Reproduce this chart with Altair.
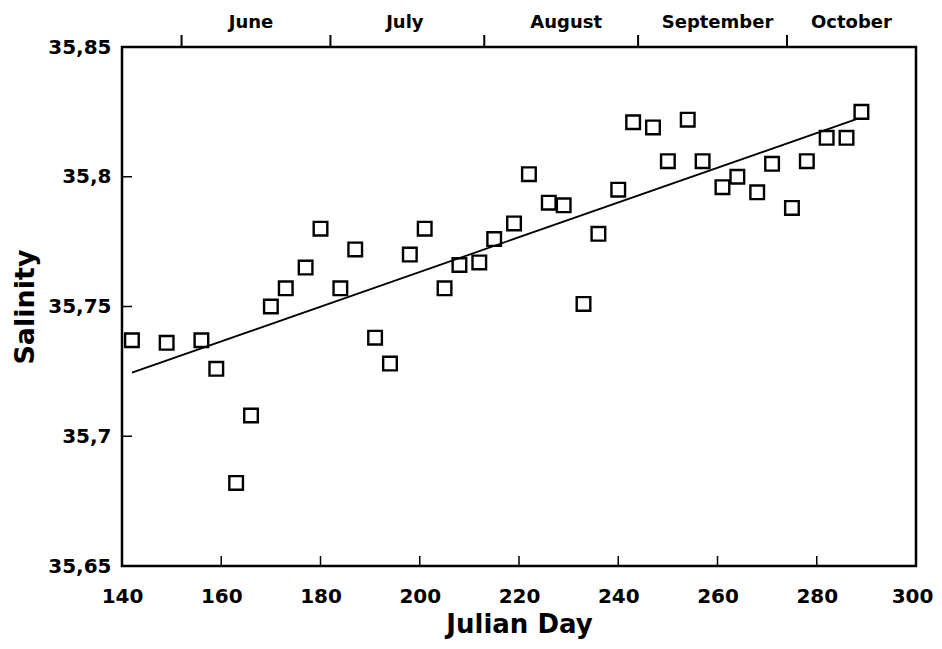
import altair as alt
import pandas as pd

# Observations: Julian day and salinity
days = [142, 149, 156, 159, 163, 166, 170, 173, 177, 180, 184, 187, 191, 194,
        198, 201, 205, 208, 212, 215, 219, 222, 226, 229, 233, 236, 240, 243,
        247, 250, 254, 257, 261, 264, 268, 271, 275, 278, 282, 286, 289]
salinity = [35.737, 35.736, 35.737, 35.726, 35.682, 35.708, 35.750, 35.757,
            35.765, 35.780, 35.757, 35.772, 35.738, 35.728, 35.770, 35.780,
            35.757, 35.766, 35.767, 35.776, 35.782, 35.801, 35.790, 35.789,
            35.751, 35.778, 35.795, 35.821, 35.819, 35.806, 35.822, 35.806,
            35.796, 35.800, 35.794, 35.805, 35.788, 35.806, 35.815, 35.815,
            35.825]

# Fitted line end points
fit_days = [142, 288]
fit_salinity = [35.7245, 35.8222]

# Month boundaries and label positions (top axis)
month_starts = [152, 182, 213, 244, 274]
month_names = ["June", "July", "August", "September", "October"]
month_mid = [166, 197, 229.5, 260, 287]

x_ticks = [140, 160, 180, 200, 220, 240, 260, 280, 300]
y_ticks = [35.65, 35.7, 35.75, 35.8, 35.85]

W, H = 794, 519
FONT = "DejaVu Sans"

obs = pd.DataFrame({"day": days, "sal": salinity})
fit = pd.DataFrame({"day": fit_days, "sal": fit_salinity})
months_t = pd.DataFrame({"day": month_starts})
months_l = pd.DataFrame({"day": month_mid, "name": month_names})
xt = pd.DataFrame({"day": x_ticks[1:-1]})
yt = pd.DataFrame({"sal": y_ticks[1:-1]})

xscale = alt.Scale(domain=[140, 300], nice=False, zero=False)
yscale = alt.Scale(domain=[35.65, 35.85], nice=False, zero=False)

xaxis = alt.Axis(values=x_ticks, title="Julian Day", domain=False, ticks=False,
                 grid=False, labelFont=FONT, labelFontWeight="bold",
                 labelFontSize=20, labelColor="black", labelPadding=20,
                 labelFlush=False, labelOverlap=False,
                 labelOffset={"condition": {"test": "datum.value == 300", "value": -4},
                              "value": 0},
                 titleFont=FONT, titleFontWeight="bold", titleFontSize=26,
                 titleColor="black", titleY=66, titleBaseline="alphabetic")
yaxis = alt.Axis(values=y_ticks, title="Salinity", domain=False, ticks=False,
                 grid=False, labelFont=FONT, labelFontWeight="bold",
                 labelFontSize=20, labelColor="black", labelPadding=11,
                 labelFlush=False, labelOverlap=False,
                 labelExpr="replace(format(datum.value, '.2~f'), '.', ',')",
                 titleFont=FONT, titleFontWeight="bold", titleFontSize=27,
                 titleColor="black", titleX=-89, titleY=H / 2,
                 titleBaseline="alphabetic", titleAlign="center", titleAngle=270)

X = alt.X("day:Q", scale=xscale, axis=xaxis)
Y = alt.Y("sal:Q", scale=yscale, axis=yaxis)

points = alt.Chart(obs).mark_point(
    shape="square", filled=False, color="black", strokeWidth=2.4,
    size=185, opacity=1
).encode(x=X, y=Y)

line = alt.Chart(fit).mark_line(color="black", strokeWidth=1.8).encode(x=X, y=Y)

mticks = alt.Chart(months_t).mark_rule(color="black", strokeWidth=2).encode(
    x=X, y=alt.value(-12), y2=alt.value(0),
)

mlabels = alt.Chart(months_l).mark_text(
    font=FONT, fontWeight="bold", fontSize=18, color="black",
    baseline="alphabetic", align="center"
).encode(x=X, y=alt.value(-19), text="name:N")

xin = alt.Chart(xt).mark_rule(color="black", strokeWidth=1.5).encode(
    x=X, y=alt.value(H - 10), y2=alt.value(H),
)

yin = alt.Chart(yt).mark_rule(color="black", strokeWidth=1.5).encode(
    y=Y, x=alt.value(0), x2=alt.value(10),
)

chart = alt.layer(points, line, mticks, mlabels, xin, yin).properties(
    width=W, height=H,
    autosize=alt.AutoSizeParams(type="none"),
    padding={"left": 114, "top": 39, "right": 18, "bottom": 75},
    background="white",
).configure_view(stroke="black", strokeWidth=2.5)

chart.save("out.html", embed_options={"renderer": "svg", "actions": False})
